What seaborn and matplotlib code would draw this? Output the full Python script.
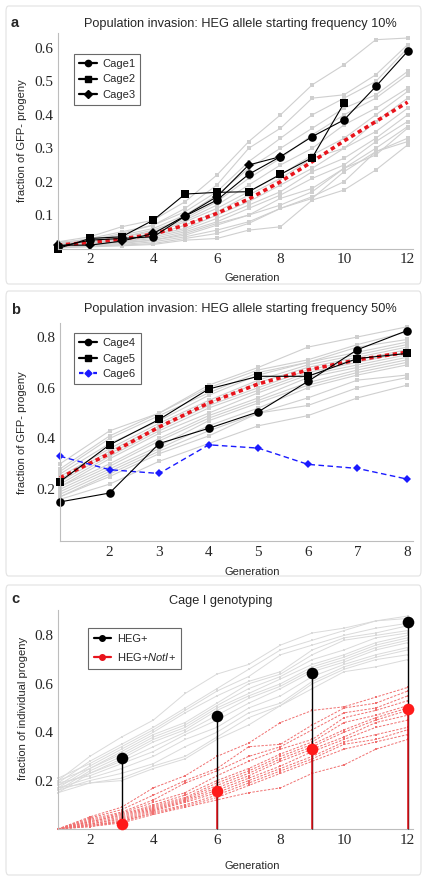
import numpy as np
import pandas as pd
import seaborn as sns
import matplotlib.pyplot as plt
from matplotlib.lines import Line2D
from matplotlib.patches import FancyBboxPatch

# ---- panel a: starting frequency 10% ----
gen_a = list(range(1, 13))
cage1 = [0.005, 0.025, 0.03, 0.035, 0.097, 0.145, 0.222, 0.275, 0.335, 0.385, 0.485, 0.59]
cage2 = [0.0, 0.03, 0.035, 0.085, 0.163, 0.168, 0.17, 0.222, 0.272, 0.435]
cage3 = [0.01, 0.01, 0.022, 0.045, 0.098, 0.155, 0.25, 0.275]
mean_a = [0.01, 0.018, 0.028, 0.043, 0.07, 0.105, 0.148, 0.2, 0.26, 0.322, 0.38, 0.438]
sims_a = [
    [0.02, 0.035, 0.065, 0.085, 0.14, 0.22, 0.32, 0.40, 0.49, 0.55, 0.625, 0.63],
    [0.015, 0.03, 0.05, 0.07, 0.12, 0.19, 0.30, 0.36, 0.45, 0.46, 0.52, 0.61],
    [0.02, 0.025, 0.045, 0.07, 0.11, 0.17, 0.26, 0.33, 0.40, 0.45, 0.50, 0.60],
    [0.012, 0.025, 0.04, 0.06, 0.10, 0.16, 0.24, 0.30, 0.36, 0.42, 0.46, 0.53],
    [0.01, 0.02, 0.035, 0.055, 0.09, 0.14, 0.21, 0.27, 0.34, 0.40, 0.45, 0.52],
    [0.015, 0.02, 0.035, 0.05, 0.085, 0.13, 0.19, 0.25, 0.30, 0.37, 0.42, 0.48],
    [0.01, 0.018, 0.03, 0.045, 0.08, 0.12, 0.17, 0.22, 0.28, 0.33, 0.40, 0.47],
    [0.008, 0.015, 0.028, 0.04, 0.07, 0.11, 0.16, 0.21, 0.27, 0.30, 0.38, 0.45],
    [0.012, 0.015, 0.025, 0.04, 0.06, 0.10, 0.14, 0.19, 0.24, 0.30, 0.35, 0.42],
    [0.005, 0.012, 0.02, 0.035, 0.055, 0.09, 0.13, 0.17, 0.23, 0.27, 0.33, 0.40],
    [0.01, 0.012, 0.02, 0.03, 0.05, 0.08, 0.12, 0.16, 0.21, 0.25, 0.32, 0.38],
    [0.008, 0.01, 0.018, 0.025, 0.045, 0.075, 0.10, 0.15, 0.18, 0.24, 0.30, 0.365],
    [0.005, 0.01, 0.015, 0.025, 0.04, 0.07, 0.10, 0.13, 0.17, 0.24, 0.28, 0.36],
    [0.005, 0.008, 0.012, 0.02, 0.035, 0.055, 0.08, 0.12, 0.155, 0.20, 0.29, 0.33],
    [0.003, 0.008, 0.01, 0.015, 0.03, 0.045, 0.075, 0.12, 0.15, 0.23, 0.29, 0.32],
    [0.002, 0.005, 0.008, 0.012, 0.025, 0.03, 0.055, 0.065, 0.145, 0.175, 0.235, 0.31],
]

# ---- panel b: starting frequency 50% ----
gen_b = list(range(1, 9))
cage4 = [0.15, 0.185, 0.38, 0.44, 0.505, 0.625, 0.75, 0.825]
cage5 = [0.23, 0.375, 0.475, 0.595, 0.645, 0.645, 0.715, 0.735]
cage6 = [0.33, 0.277, 0.262, 0.375, 0.362, 0.298, 0.282, 0.24]
mean_b = [0.245, 0.34, 0.445, 0.54, 0.615, 0.67, 0.71, 0.74]
sims_b = [
    [0.30, 0.43, 0.50, 0.61, 0.68, 0.76, 0.80, 0.84],
    [0.28, 0.41, 0.50, 0.60, 0.67, 0.71, 0.77, 0.82],
    [0.27, 0.40, 0.49, 0.58, 0.66, 0.70, 0.76, 0.79],
    [0.26, 0.38, 0.47, 0.57, 0.65, 0.70, 0.74, 0.78],
    [0.25, 0.36, 0.46, 0.55, 0.63, 0.69, 0.73, 0.77],
    [0.24, 0.35, 0.45, 0.54, 0.62, 0.68, 0.72, 0.76],
    [0.23, 0.34, 0.44, 0.53, 0.60, 0.67, 0.71, 0.75],
    [0.22, 0.33, 0.43, 0.52, 0.59, 0.66, 0.70, 0.74],
    [0.21, 0.32, 0.42, 0.50, 0.58, 0.65, 0.69, 0.73],
    [0.21, 0.30, 0.40, 0.49, 0.56, 0.64, 0.68, 0.72],
    [0.20, 0.29, 0.39, 0.48, 0.55, 0.62, 0.67, 0.71],
    [0.19, 0.28, 0.37, 0.47, 0.54, 0.61, 0.66, 0.70],
    [0.18, 0.27, 0.36, 0.45, 0.52, 0.60, 0.65, 0.69],
    [0.17, 0.26, 0.35, 0.43, 0.50, 0.56, 0.63, 0.65],
    [0.17, 0.25, 0.34, 0.41, 0.50, 0.53, 0.60, 0.64],
    [0.16, 0.22, 0.31, 0.38, 0.45, 0.49, 0.56, 0.61],
]

# ---- panel c: cage I genotyping ----
gen_c = list(range(1, 13))
geno_gen = [3, 6, 9, 12]
heg_pos = [0.295, 0.465, 0.645, 0.855]
heg_noti = [0.02, 0.155, 0.33, 0.497]
sims_heg = [
    [0.20, 0.30, 0.38, 0.45, 0.56, 0.64, 0.68, 0.76, 0.81, 0.83, 0.86, 0.88],
    [0.19, 0.28, 0.35, 0.42, 0.50, 0.58, 0.66, 0.74, 0.78, 0.82, 0.86, 0.87],
    [0.21, 0.27, 0.34, 0.41, 0.49, 0.57, 0.63, 0.72, 0.76, 0.80, 0.83, 0.85],
    [0.18, 0.26, 0.33, 0.40, 0.48, 0.55, 0.61, 0.65, 0.74, 0.79, 0.81, 0.84],
    [0.17, 0.25, 0.32, 0.39, 0.44, 0.52, 0.60, 0.64, 0.72, 0.78, 0.80, 0.82],
    [0.20, 0.25, 0.31, 0.38, 0.43, 0.51, 0.58, 0.63, 0.70, 0.74, 0.79, 0.81],
    [0.16, 0.24, 0.30, 0.37, 0.42, 0.50, 0.56, 0.62, 0.68, 0.72, 0.77, 0.80],
    [0.18, 0.23, 0.29, 0.36, 0.41, 0.49, 0.55, 0.60, 0.67, 0.71, 0.76, 0.79],
    [0.15, 0.23, 0.28, 0.34, 0.40, 0.47, 0.54, 0.59, 0.66, 0.70, 0.75, 0.78],
    [0.19, 0.22, 0.27, 0.32, 0.39, 0.45, 0.52, 0.58, 0.65, 0.69, 0.74, 0.77],
    [0.17, 0.21, 0.25, 0.30, 0.37, 0.42, 0.50, 0.55, 0.63, 0.68, 0.72, 0.75],
    [0.16, 0.20, 0.23, 0.27, 0.34, 0.40, 0.48, 0.52, 0.61, 0.67, 0.71, 0.74],
    [0.15, 0.19, 0.21, 0.26, 0.30, 0.38, 0.46, 0.51, 0.60, 0.66, 0.70, 0.72],
    [0.17, 0.19, 0.20, 0.25, 0.29, 0.37, 0.43, 0.51, 0.58, 0.65, 0.67, 0.70],
]
sims_noti = [
    [0, 0.05, 0.09, 0.17, 0.22, 0.30, 0.355, 0.44, 0.49, 0.505, 0.545, 0.585],
    [0, 0.045, 0.08, 0.14, 0.20, 0.25, 0.34, 0.35, 0.43, 0.50, 0.52, 0.57],
    [0, 0.04, 0.07, 0.12, 0.19, 0.24, 0.30, 0.34, 0.41, 0.48, 0.50, 0.55],
    [0, 0.035, 0.065, 0.11, 0.15, 0.22, 0.28, 0.33, 0.37, 0.46, 0.49, 0.53],
    [0, 0.03, 0.06, 0.10, 0.14, 0.20, 0.25, 0.31, 0.36, 0.44, 0.47, 0.51],
    [0, 0.03, 0.055, 0.095, 0.13, 0.19, 0.24, 0.30, 0.35, 0.41, 0.46, 0.50],
    [0, 0.025, 0.05, 0.09, 0.125, 0.18, 0.23, 0.29, 0.34, 0.40, 0.45, 0.49],
    [0, 0.02, 0.045, 0.085, 0.12, 0.17, 0.22, 0.28, 0.33, 0.38, 0.44, 0.47],
    [0, 0.02, 0.04, 0.08, 0.115, 0.16, 0.21, 0.26, 0.32, 0.37, 0.42, 0.45],
    [0, 0.015, 0.035, 0.075, 0.11, 0.15, 0.20, 0.25, 0.30, 0.36, 0.39, 0.42],
    [0, 0.015, 0.03, 0.07, 0.10, 0.14, 0.19, 0.24, 0.29, 0.35, 0.37, 0.41],
    [0, 0.01, 0.03, 0.065, 0.095, 0.13, 0.18, 0.23, 0.28, 0.33, 0.36, 0.39],
    [0, 0.01, 0.025, 0.06, 0.09, 0.12, 0.15, 0.17, 0.23, 0.265, 0.33, 0.37],
]


def long_form(gens, runs):
    rows = []
    for i, run in enumerate(runs):
        for g, v in zip(gens, run):
            rows.append((i, g, v))
    return pd.DataFrame(rows, columns=['run', 'gen', 'frac'])


def series(gens, vals):
    return pd.DataFrame({'gen': gens[:len(vals)], 'frac': vals})


sns.set_style("white")
plt.rcParams['font.family'] = ['Liberation Sans', 'DejaVu Sans']
plt.rcParams['mathtext.fontset'] = 'custom'
plt.rcParams['mathtext.it'] = 'Liberation Sans:italic'

W, H = 427, 881
fig = plt.figure(figsize=(W / 100, H / 100), dpi=100)

TITLE_FS = 9.2
LABEL_FS = 8
TICK_FS = 11
LEG_FS = 8


def px_axes(left, top, right, bottom):
    return fig.add_axes([left / W, 1 - bottom / H, (right - left) / W, (bottom - top) / H])


# light frames around each panel
for top, bottom in [(6, 284), (291, 576), (585, 875)]:
    fig.patches.append(FancyBboxPatch((6 / W, 1 - bottom / H), 415 / W, (bottom - top) / H,
                                      boxstyle="round,pad=0,rounding_size=0.006",
                                      transform=fig.transFigure, facecolor='none',
                                      edgecolor='#e2e2e2', linewidth=0.8))


def style_axes(ax, xmaj, xmin, ymaj, ymin):
    sns.despine(ax=ax)
    for s in ['left', 'bottom']:
        ax.spines[s].set_color('#bdbdbd')
        ax.spines[s].set_linewidth(0.8)
    ax.set_xticks(xmaj)
    ax.set_xticks(xmin, minor=True)
    ax.set_yticks(ymaj)
    ax.set_yticks(ymin, minor=True)
    ax.tick_params(which='major', length=3, width=0.6, color='#aaaaaa', direction='inout',
                   labelsize=TICK_FS, pad=2)
    ax.tick_params(which='minor', length=1.8, width=0.5, color='#bbbbbb', direction='inout')
    for lab in ax.get_xticklabels() + ax.get_yticklabels():
        lab.set_family('Liberation Serif')
    ax.grid(False)
    for ln in ax.lines:
        ln.set_clip_on(False)


gray = '#cfcfcf'

# ================= panel a =================
ax = px_axes(58, 33, 413, 248.5)
sns.lineplot(data=long_form(gen_a, sims_a), x='gen', y='frac', units='run', estimator=None,
             color=gray, lw=0.8, marker='s', markersize=2.2, markeredgewidth=0,
             ax=ax, legend=False)
sns.lineplot(data=series(gen_a, mean_a), x='gen', y='frac', color='#e8141c', lw=2.6,
             linestyle=(0, (1.2, 1.0)), ax=ax, legend=False)
for vals, mk, ms in [(cage2, 's', 5.5), (cage3, 'D', 4.8), (cage1, 'o', 6.2)]:
    sns.lineplot(data=series(gen_a, vals), x='gen', y='frac', color='black', lw=0.8,
                 marker=mk, markersize=ms, markeredgewidth=0, ax=ax, legend=False)
ax.set_xlim(1, 12.17)
ax.set_ylim(0, 0.645)
style_axes(ax, [2, 4, 6, 8, 10, 12], np.arange(1, 12.1, 0.5),
           [0.1, 0.2, 0.3, 0.4, 0.5, 0.6], np.arange(0, 0.64, 0.02))
ax.set_xlabel('Generation', fontsize=LABEL_FS)
ax.set_ylabel('fraction of GFP- progeny', fontsize=LABEL_FS)
ax.xaxis.set_label_coords(0.546, -0.114)
ax.yaxis.set_label_coords(-0.087, 0.5)
hand = [Line2D([], [], color='black', lw=1.6, marker=m, markersize=s)
        for m, s in [('o', 4.5), ('s', 4), ('D', 3.8)]]
leg = ax.legend(hand, ['Cage1', 'Cage2', 'Cage3'], loc='upper left',
                bbox_to_anchor=(0.045, 0.903), borderaxespad=0, fontsize=LEG_FS,
                fancybox=False, edgecolor='#444444', handlelength=1.6, labelspacing=0.5,
                handletextpad=0.5, borderpad=0.45)
leg.get_frame().set_linewidth(0.8)
fig.text(11 / W, 1 - 23 / H, 'a', fontsize=10.5, fontweight='bold', va='center')
fig.text(240 / W, 1 - 24 / H, 'Population invasion: HEG allele starting frequency 10%',
         fontsize=TITLE_FS, ha='center', va='center')

# ================= panel b =================
ax = px_axes(60, 323, 413, 541)
sns.lineplot(data=long_form(gen_b, sims_b), x='gen', y='frac', units='run', estimator=None,
             color=gray, lw=0.8, marker='s', markersize=2.2, markeredgewidth=0,
             ax=ax, legend=False)
sns.lineplot(data=series(gen_b, mean_b), x='gen', y='frac', color='#e8141c', lw=2.6,
             linestyle=(0, (1.2, 1.0)), ax=ax, legend=False)
sns.lineplot(data=series(gen_b, cage6), x='gen', y='frac', color='#1a1aff', lw=1.0,
             linestyle=(0, (4, 2.5)), marker='D', markersize=3.8, markeredgewidth=0,
             ax=ax, legend=False)
for vals, mk, ms in [(cage5, 's', 5.5), (cage4, 'o', 6.2)]:
    sns.lineplot(data=series(gen_b, vals), x='gen', y='frac', color='black', lw=0.8,
                 marker=mk, markersize=ms, markeredgewidth=0, ax=ax, legend=False)
ax.set_xlim(1, 8.12)
ax.set_ylim(-0.004, 0.855)
style_axes(ax, [2, 3, 4, 5, 6, 7, 8], np.arange(1, 8.1, 0.25),
           [0.2, 0.4, 0.6, 0.8], np.arange(0, 0.85, 0.05))
ax.set_xlabel('Generation', fontsize=LABEL_FS)
ax.set_ylabel('fraction of GFP- progeny', fontsize=LABEL_FS)
ax.xaxis.set_label_coords(0.544, -0.119)
ax.yaxis.set_label_coords(-0.093, 0.495)
hand = [Line2D([], [], color='black', lw=1.6, marker='o', markersize=4.5),
        Line2D([], [], color='black', lw=1.6, marker='s', markersize=4),
        Line2D([], [], color='#1a1aff', lw=1.6, ls=(0, (2, 1.2)), marker='D', markersize=3.5)]
leg = ax.legend(hand, ['Cage4', 'Cage5', 'Cage6'], loc='upper left',
                bbox_to_anchor=(0.04, 0.954), borderaxespad=0, fontsize=LEG_FS,
                fancybox=False, edgecolor='#444444', handlelength=1.6, labelspacing=0.5,
                handletextpad=0.5, borderpad=0.45)
leg.get_frame().set_linewidth(0.8)
fig.text(11 / W, 1 - 310 / H, 'b', fontsize=10.5, fontweight='bold', va='center')
fig.text(240 / W, 1 - 309 / H, 'Population invasion: HEG allele starting frequency 50%',
         fontsize=TITLE_FS, ha='center', va='center')

# ================= panel c =================
ax = px_axes(58, 610, 413, 829)
sns.lineplot(data=long_form(gen_c, sims_heg), x='gen', y='frac', units='run', estimator=None,
             color='#dadada', lw=0.7, marker='s', markersize=2.0, markeredgewidth=0,
             ax=ax, legend=False)
sns.lineplot(data=long_form(gen_c, sims_noti), x='gen', y='frac', units='run', estimator=None,
             color='#f07070', lw=0.7, linestyle=(0, (2.5, 1.5)), marker='s', markersize=2.0,
             markeredgewidth=0, ax=ax, legend=False)
ax.vlines(geno_gen, 0, heg_pos, color='black', lw=1.0, zorder=4, clip_on=False)
ax.vlines(geno_gen, 0, heg_noti, color='#e8141c', lw=1.1, zorder=4, clip_on=False)
sns.scatterplot(x=geno_gen, y=heg_pos, color='black', s=70, linewidth=0, ax=ax, zorder=5,
                clip_on=False)
sns.scatterplot(x=geno_gen, y=heg_noti, color='#ff1a1a', s=70, linewidth=0, ax=ax, zorder=5,
                clip_on=False)
ax.set_xlim(1, 12.17)
ax.set_ylim(0, 0.905)
style_axes(ax, [2, 4, 6, 8, 10, 12], np.arange(1, 12.1, 0.5),
           [0.2, 0.4, 0.6, 0.8], np.arange(0, 0.9, 0.05))
ax.set_xlabel('Generation', fontsize=LABEL_FS)
ax.set_ylabel('fraction of individual progeny', fontsize=LABEL_FS)
ax.xaxis.set_label_coords(0.546, -0.146)
ax.yaxis.set_label_coords(-0.085, 0.55)
hand = [Line2D([], [], color='black', lw=1.6, marker='o', markersize=4),
        Line2D([], [], color='#e8141c', lw=1.6, marker='o', markersize=4)]
leg = ax.legend(hand, ['HEG+', r'HEG+$\mathit{NotI}$+'], loc='upper left',
                bbox_to_anchor=(0.0845, 0.918), borderaxespad=0, fontsize=LEG_FS,
                fancybox=False, edgecolor='#444444', handlelength=1.6, labelspacing=0.7,
                handletextpad=0.5, borderpad=0.5)
leg.get_frame().set_linewidth(0.8)
fig.text(11 / W, 1 - 599 / H, 'c', fontsize=10.5, fontweight='bold', va='center')
fig.text(221 / W, 1 - 601 / H, 'Cage I genotyping', fontsize=TITLE_FS, ha='center',
         va='center')

fig.savefig('out.png', dpi=100)
